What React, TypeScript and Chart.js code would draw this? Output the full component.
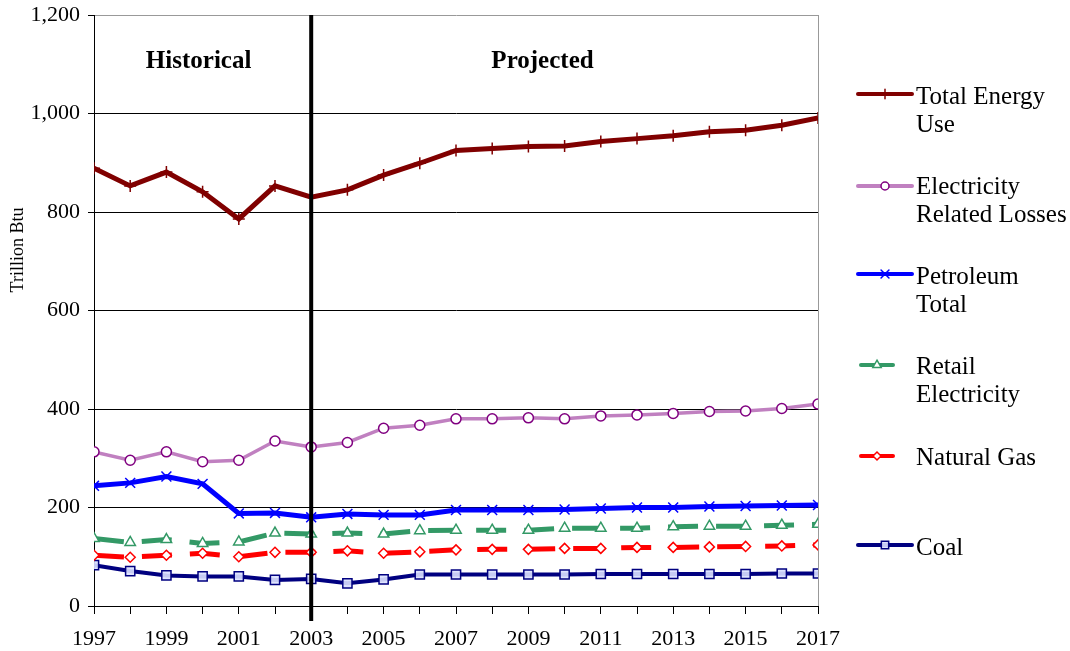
import React, { useEffect, useRef } from "react";
import { Chart, registerables } from "chart.js";
import { drawPoint } from "chart.js/helpers";

Chart.register(...registerables);

const years = [1997, 1998, 1999, 2000, 2001, 2002, 2003, 2004, 2005, 2006, 2007, 2008, 2009, 2010, 2011, 2012, 2013, 2014, 2015, 2016, 2017];
const totalEnergy = [889, 853, 881, 841, 786, 853, 830, 845, 875, 899, 925, 929, 933, 934, 943, 949, 955, 963, 966, 976, 991];
const elecLosses = [313, 296, 313, 293, 296, 335, 323, 332, 361, 367, 380, 380, 382, 380, 386, 388, 391, 395, 396, 401, 410];
const petroleum = [244, 250, 263, 248, 188, 189, 180, 187, 185, 185, 195, 195, 195, 196, 198, 200, 200, 202, 203, 204, 205];
const retailElec = [137, 129, 135, 127, 130, 148, 146, 148, 146, 153, 154, 154, 154, 158, 158, 158, 161, 162, 162, 164, 166];
const naturalGas = [103, 99, 103, 107, 100, 109, 109, 112, 107, 110, 114, 115, 115, 117, 117, 119, 119, 120, 121, 122, 124];
const coal = [83, 71, 62, 60, 60, 53, 55, 46, 54, 64, 64, 64, 64, 64, 65, 65, 65, 65, 65, 66, 66];

const seriesNames = [["Total Energy", "Use"], ["Electricity", "Related Losses"], ["Petroleum", "Total"], ["Retail", "Electricity"], ["Natural Gas"], ["Coal"]];
const dividerYear = 2003;
const regionLabels = ["Historical", "Projected"];
const regionLabelYears = [2000, 2009.5];
const yTicks = [0, 200, 400, 600, 800, 1000, 1200];

const FONT = "'Liberation Serif', 'Times New Roman', serif";

const toXY = (vals: number[]) => vals.map((v, i) => ({ x: years[i], y: v }));

const App = () => {
  const ref = useRef<HTMLCanvasElement | null>(null);
  useEffect(() => {
    document.body.style.margin = "0";
    const canvas = ref.current;
    if (!canvas) return;

    const legendLayout = [
      { lineY: 94, x1: 858, x2: 912, textY: 97 },
      { lineY: 186, x1: 858, x2: 912, textY: 187 },
      { lineY: 274, x1: 858, x2: 912, textY: 277 },
      { lineY: 365, x1: 861, x2: 893, textY: 367 },
      { lineY: 456, x1: 861, x2: 893, textY: 458 },
      { lineY: 545, x1: 858, x2: 912, textY: 548 },
    ];

    const custom = {
      id: "custom",
      beforeDatasetsDraw(chart: any) {
        const { ctx, chartArea } = chart;
        ctx.save();
        ctx.strokeStyle = "#999";
        ctx.lineWidth = 1;
        ctx.beginPath();
        ctx.moveTo(chartArea.right + 0.5, chartArea.top);
        ctx.lineTo(chartArea.right + 0.5, chartArea.bottom);
        ctx.stroke();
        ctx.restore();
      },
      afterDatasetsDraw(chart: any) {
        const { ctx, chartArea, scales } = chart;
        const xs = scales.x;
        ctx.save();
        const dx = xs.getPixelForValue(dividerYear);
        ctx.strokeStyle = "#000";
        ctx.lineWidth = 4;
        ctx.beginPath();
        ctx.moveTo(dx, chartArea.top);
        ctx.lineTo(dx, chartArea.bottom + 15);
        ctx.stroke();
        ctx.fillStyle = "#000";
        ctx.font = `bold 25px ${FONT}`;
        ctx.textAlign = "center";
        ctx.textBaseline = "middle";
        regionLabels.forEach((t, i) => {
          ctx.fillText(t, xs.getPixelForValue(regionLabelYears[i]) - 4, 62);
        });
        ctx.save();
        ctx.translate(18, 250);
        ctx.rotate(-Math.PI / 2);
        ctx.font = `18px ${FONT}`;
        ctx.fillText("Trillion Btu", 0, 0);
        ctx.restore();
        chart.data.datasets.forEach((ds: any, i: number) => {
          const L = legendLayout[i];
          ctx.save();
          ctx.strokeStyle = ds.borderColor;
          ctx.lineWidth = 4;
          ctx.lineCap = "round";
          ctx.beginPath();
          ctx.moveTo(L.x1, L.lineY);
          ctx.lineTo(L.x2, L.lineY);
          ctx.stroke();
          ctx.fillStyle = ds.pointBackgroundColor;
          ctx.strokeStyle = ds.pointBorderColor;
          ctx.lineWidth = 1.5;
          drawPoint(ctx, { pointStyle: ds.pointStyle, radius: ds.pointRadius * 0.8, rotation: 0, borderWidth: 1.5 }, (L.x1 + L.x2) / 2, L.lineY);
          ctx.restore();
          ctx.fillStyle = "#000";
          ctx.font = `25px ${FONT}`;
          ctx.textAlign = "left";
          ctx.textBaseline = "middle";
          seriesNames[i].forEach((line, j) => {
            ctx.fillText(line, 916, L.textY + j * 28);
          });
        });
        ctx.restore();
      },
    };

    const mk = (label: string, vals: number[], color: string, width: number, style: string, radius: number, pointBorder: string, pointBg: string, dash: number[] = []) => ({
      label,
      data: toXY(vals),
      borderColor: color,
      backgroundColor: color,
      borderWidth: width,
      borderDash: dash,
      pointStyle: style,
      pointRadius: radius,
      pointBorderColor: pointBorder,
      pointBackgroundColor: pointBg,
      pointBorderWidth: 1.5,
      tension: 0,
      fill: false,
    });

    const chart = new Chart(canvas, {
      type: "line",
      data: {
        datasets: [
          mk("Total Energy Use", totalEnergy, "#800000", 5, "cross", 6, "#800000", "#800000"),
          mk("Electricity Related Losses", elecLosses, "#c080c0", 3.5, "circle", 5, "#800080", "#ffffff"),
          mk("Petroleum Total", petroleum, "#0000ff", 5, "crossRot", 7, "#0000ff", "#0000ff"),
          mk("Retail Electricity", retailElec, "#339966", 5, "triangle", 6, "#339966", "#ffffff", [30, 18]),
          mk("Natural Gas", naturalGas, "#ff0000", 5, "rectRot", 5, "#ff0000", "#ffffff", [30, 18]),
          mk("Coal", coal, "#000080", 4, "rect", 6.5, "#000080", "rgba(220,225,255,0.9)"),
        ] as any,
      },
      options: {
        responsive: false,
        animation: false,
        layout: { padding: { top: 15, right: 252, left: 0, bottom: 0 } },
        plugins: { legend: { display: false }, tooltip: { enabled: false } },
        scales: {
          x: {
            type: "linear",
            min: 1997,
            max: 2017,
            afterFit: (s: any) => { s.height = 45; s.paddingLeft = 0; s.paddingRight = 0; },
            border: { display: true, color: "#000", width: 1 },
            grid: { drawOnChartArea: false, drawTicks: true, tickLength: 8, tickColor: "#000" },
            ticks: {
              stepSize: 1,
              autoSkip: false,
              maxRotation: 0,
              padding: 12,
              color: "#000",
              font: { family: FONT, size: 22 },
              callback: (v: any) => (Number(v) % 2 === 1 ? String(v) : ""),
            },
          },
          y: {
            min: 0,
            max: 1200,
            afterFit: (s: any) => { s.width = 94; s.paddingTop = 0; s.paddingBottom = 0; },
            afterBuildTicks: (s: any) => { s.ticks = yTicks.map((v) => ({ value: v })); },
            border: { display: true, color: "#000", width: 1 },
            grid: {
              color: (c: any) => (c.tick && c.tick.value === 1200 ? "#999" : "#000"),
              tickColor: "#000",
              tickLength: 6,
              drawTicks: true,
            },
            ticks: {
              padding: 8,
              color: "#000",
              font: { family: FONT, size: 22 },
              callback: (v: any) => Number(v).toLocaleString("en-US"),
            },
          },
        },
      },
      plugins: [custom],
    });
    return () => chart.destroy();
  }, []);

  return (
    <div style={{ position: "absolute", left: 0, top: 0, width: 1070, height: 651, background: "#fff" }}>
      <canvas ref={ref} width={1070} height={651} />
    </div>
  );
};

export default App;
